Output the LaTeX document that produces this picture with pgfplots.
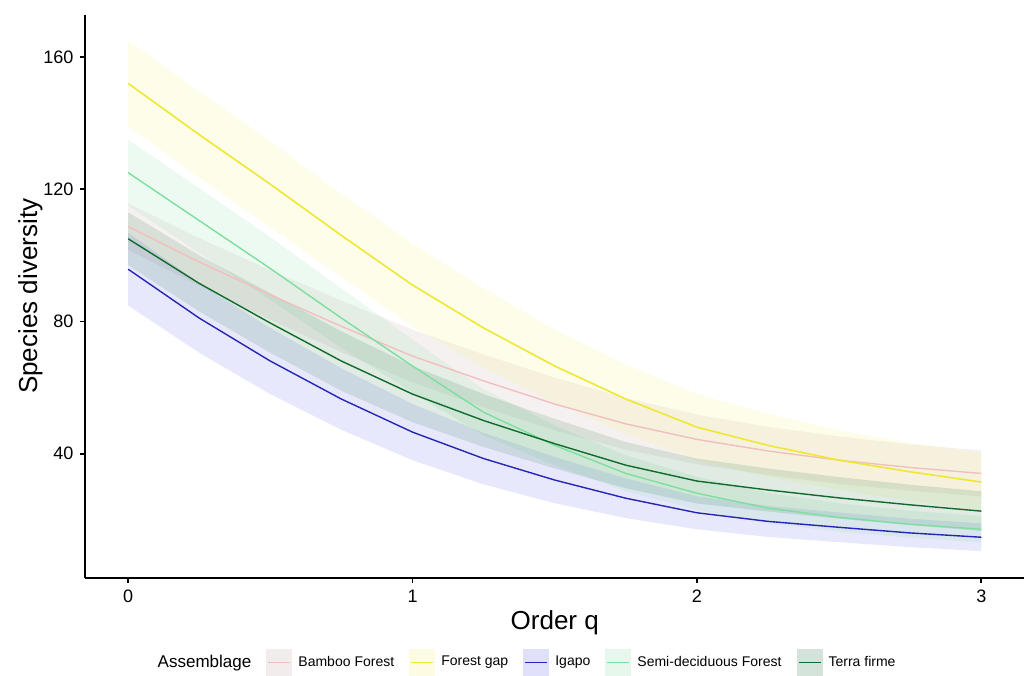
\documentclass[border=0pt]{standalone}
\usepackage{fontspec}
\setmainfont{Liberation Sans}
\usepackage{pgfplots}
\pgfplotsset{compat=1.18}
\usepackage{pgfplotstable}
\usepgfplotslibrary{fillbetween}

\definecolor{bamL}{RGB}{243,190,190}
\definecolor{bamF}{RGB}{190,160,160}
\definecolor{gapL}{RGB}{238,232,50}
\definecolor{gapF}{RGB}{245,240,110}
\definecolor{igaL}{RGB}{38,38,181}
\definecolor{igaF}{RGB}{100,100,235}
\definecolor{semL}{RGB}{125,222,158}
\definecolor{semF}{RGB}{130,220,160}
\definecolor{terL}{RGB}{14,107,42}
\definecolor{terF}{RGB}{40,120,70}

\pgfplotstableread{
q mean lo hi
0 152 139 165
0.25 136.5 123.5 149.5
0.5 121.5 108.5 134.5
0.75 106 93.5 118.5
1 91 78.5 103.5
1.25 78 66 90
1.5 66.5 55.5 77.5
1.75 56.5 46 67
2 48 38 58
2.25 42.5 33 52
2.5 38 29 47
2.75 34.5 25.7 43.3
3 31.4 22.7 40.1
}\gap

\pgfplotstableread{
q mean lo hi
0 108.7 101.7 115.7
0.25 98 90.8 105.2
0.5 88 80.5 95.5
0.75 78.5 70.7 86.3
1 69.5 61.5 77.5
1.25 62 54 70
1.5 55 47 63
1.75 49 41.2 56.8
2 44.3 36.8 51.8
2.25 40.8 33.5 48.1
2.5 38 30.8 45.2
2.75 35.8 28.8 42.8
3 34 27 41
}\bam

\pgfplotstableread{
q mean lo hi
0 125 115 135
0.25 110.5 100.7 120.3
0.5 96 86.5 105.5
0.75 81 72 90
1 66.5 58.5 74.5
1.25 52.5 45.5 59.5
1.5 42.5 36.5 48.5
1.75 34 28.5 39.5
2 28 23 33
2.25 23.5 18.9 28.1
2.5 20.7 16.4 25
2.75 18.6 14.5 22.7
3 17.1 13.1 21.1
}\sem

\pgfplotstableread{
q mean lo hi
0 105 97 113
0.25 91.5 83 100
0.5 79.5 70.5 88.5
0.75 68 59 77
1 58 49.5 66.5
1.25 50 42 58
1.5 43 35.5 50.5
1.75 36.5 29.5 43.5
2 31.7 24.9 38.5
2.25 29 22.5 35.5
2.5 26.6 20.3 32.9
2.75 24.5 18.4 30.6
3 22.6 16.6 28.6
}\ter

\pgfplotstableread{
q mean lo hi
0 95.8 84.8 106.8
0.25 81 70.5 91.5
0.5 68 58 78
0.75 56.5 47.2 65.8
1 46.5 38 55
1.25 38.5 30.7 46.3
1.5 32 25 39
1.75 26.5 20.5 32.5
2 22.1 17.1 27.1
2.25 19.5 14.8 24.2
2.5 17.7 13.2 22.2
2.75 16 11.7 20.3
3 14.7 10.5 18.9
}\iga

\newcommand{\band}[3]{%
  \addplot[name path=#2U, draw=none, forget plot] table[x=q, y=hi] {#1};
  \addplot[name path=#2L, draw=none, forget plot] table[x=q, y=lo] {#1};
  \addplot[fill=#3, fill opacity=0.15, draw=none, forget plot] fill between[of=#2U and #2L];
}

\begin{document}
\begin{tikzpicture}
\begin{axis}[
  at={(0,0)}, anchor=south west,
  scale only axis, width=468.8pt, height=281pt,
  xmin=-0.15, xmax=3.15, ymin=2.5, ymax=172.7,
  axis x line=bottom, axis y line=left,
  axis line style={-, line width=1pt, black},
  xtick={0,1,2,3}, ytick={40,80,120,160},
  tick align=outside, major tick length=2.5pt,
  tick style={line width=0.9pt, black},
  /pgf/number format/assume math mode=true,
  ticklabel style={font=\fontsize{9}{10}\selectfont, text=black},
  xlabel={Order q}, ylabel={Species diversity},
  label style={font=\fontsize{13}{15}\selectfont},
  xlabel style={at={(axis description cs:0.5,-0.080)}, anchor=center},
  ylabel style={at={(axis description cs:-0.0587,0.5)}, anchor=center, rotate=0},
  legend columns=-1,
  legend style={draw=none, fill=none, font=\fontsize{7}{8}\selectfont,
    at={(axis description cs:0.469,-0.151)}, anchor=center,
    /tikz/every even column/.append style={column sep=5.5pt},
    /tikz/every odd column/.append style={column sep=1pt}},
]
\band{\bam}{bam}{bamF}
\band{\gap}{gap}{gapF}
\band{\iga}{iga}{igaF}
\band{\sem}{sem}{semF}
\band{\ter}{ter}{terF}

\addplot[bamL, line width=0.7pt, forget plot] table[x=q, y=mean] {\bam};
\addplot[gapL, line width=0.8pt, forget plot] table[x=q, y=mean] {\gap};
\addplot[igaL, line width=0.7pt, forget plot] table[x=q, y=mean] {\iga};
\addplot[semL, line width=0.7pt, forget plot] table[x=q, y=mean] {\sem};
\addplot[terL, line width=0.7pt, forget plot] table[x=q, y=mean] {\ter};

\addlegendimage{empty legend}
\addlegendentry{\fontsize{8.5}{9}\selectfont Assemblage}
\addlegendimage{legend image code/.code={\path[draw=none, fill=bamF, fill opacity=0.2] (0pt,-6.5pt) rectangle (13pt,6.5pt); \path[draw=bamL, line width=0.7pt] (1pt,0pt) -- (12pt,0pt);}}
\addlegendentry{Bamboo Forest}
\addlegendimage{legend image code/.code={\path[draw=none, fill=gapF, fill opacity=0.2] (0pt,-6.5pt) rectangle (13pt,6.5pt); \path[draw=gapL, line width=0.8pt] (1pt,0pt) -- (12pt,0pt);}}
\addlegendentry{Forest gap}
\addlegendimage{legend image code/.code={\path[draw=none, fill=igaF, fill opacity=0.2] (0pt,-6.5pt) rectangle (13pt,6.5pt); \path[draw=igaL, line width=0.7pt] (1pt,0pt) -- (12pt,0pt);}}
\addlegendentry{Igapo}
\addlegendimage{legend image code/.code={\path[draw=none, fill=semF, fill opacity=0.2] (0pt,-6.5pt) rectangle (13pt,6.5pt); \path[draw=semL, line width=0.7pt] (1pt,0pt) -- (12pt,0pt);}}
\addlegendentry{Semi-deciduous Forest}
\addlegendimage{legend image code/.code={\path[draw=none, fill=terF, fill opacity=0.2] (0pt,-6.5pt) rectangle (13pt,6.5pt); \path[draw=terL, line width=0.7pt] (1pt,0pt) -- (12pt,0pt);}}
\addlegendentry{Terra firme}
\end{axis}
\pgfresetboundingbox
\path (-42.7pt,-49pt) rectangle (468.8pt,288.5pt);
\end{tikzpicture}
\end{document}
